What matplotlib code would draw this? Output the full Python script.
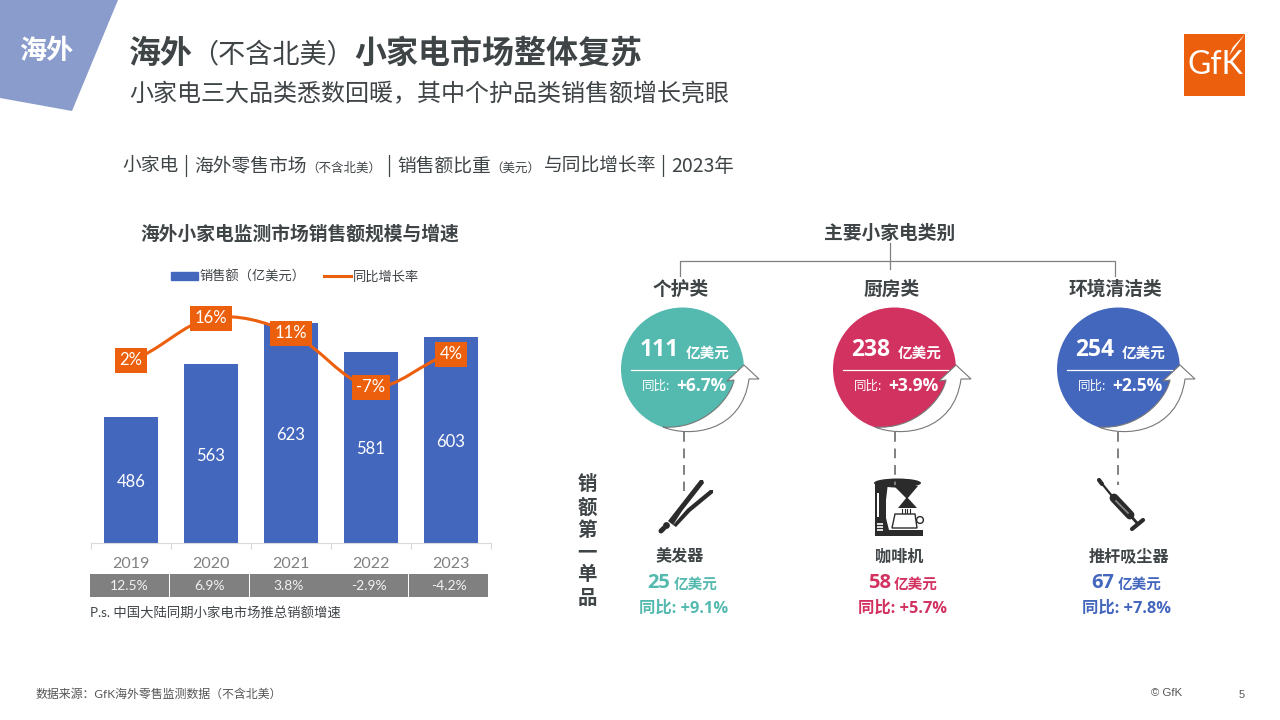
#!/usr/bin/env python3
# Slide: small appliances overseas market, bar + line chart and category bubbles
import matplotlib
matplotlib.use("Agg")
import matplotlib.pyplot as plt
from matplotlib.lines import Line2D
from matplotlib.patches import Circle, Ellipse, PathPatch, Polygon, Rectangle
from matplotlib.path import Path

# --- Data ---
years = ["2019", "2020", "2021", "2022", "2023"]
sales = [486, 563, 623, 581, 603]
growth = [2, 16, 11, -7, 4]
growth_labels = ["2%", "16%", "11%", "-7%", "4%"]
mainland_growth = ["12.5%", "6.9%", "3.8%", "-2.9%", "-4.2%"]

categories = ["个护类", "厨房类", "环境清洁类"]
category_sales = ["111", "238", "254"]
category_yoy = ["+6.7%", "+3.9%", "+2.5%"]
top_items = ["美发器", "咖啡机", "推杆吸尘器"]
top_sales = ["25", "58", "67"]
top_yoy = ["+9.1%", "+5.7%", "+7.8%"]

# --- Colours ---
DARK = "#3F4447"
GREY = "#808080"
BLUE = "#4467BE"
ORANGE = "#EC5F0C"
TEAL = "#54B9AF"
RED = "#D23260"
ICON = "#2B2B2B"
cat_colors = [TEAL, RED, BLUE]

CJK = "Noto Sans CJK SC"
LATO = ["Lato", CJK]
OPEN = ["Open Sans", CJK]

plt.rcParams["font.family"] = [CJK, "DejaVu Sans"]

fig = plt.figure(figsize=(12.8, 7.2), dpi=100)

# Overlay in pixel coordinates for everything around the chart
bg = fig.add_axes([0, 0, 1, 1], zorder=0)
bg.set_xlim(0, 1280)
bg.set_ylim(720, 0)
bg.axis("off")


def txt(x, y, s, size, color=DARK, weight="normal", ha="left", family=None, zorder=6):
    # text sits a bit high with va=center, so nudge it down
    bg.text(x, y + 3.5, s, fontsize=size, color=color, fontweight=weight, ha=ha, va="center",
            family=family if family else [CJK, "DejaVu Sans"], zorder=zorder)


# --- Header ---
bg.add_patch(Polygon([(0, 0), (118, 0), (72, 111), (0, 98)], color="#8A9CCB", lw=0))
txt(46, 47.5, "海外", 19.5, "white", "bold", ha="center")
txt(129, 50, "海外", 23, DARK, "bold")
txt(191, 51, "（不含北美）", 19.5, DARK)
txt(354, 50, "小家电市场整体复苏", 23, DARK, "bold")
txt(129, 90.5, "小家电三大品类悉数回暖，其中个护品类销售额增长亮眼", 17.3, DARK)

txt(122, 162.5, "小家电", 13.5, DARK)
txt(185.5, 162.5, "|", 13.5, DARK, ha="center")
txt(194.5, 162.5, "海外零售市场", 13.5, DARK)
txt(306, 164.5, "（不含北美）", 9, DARK)
txt(389, 162.5, "|", 13.5, DARK, ha="center")
txt(397, 162.5, "销售额比重", 13.5, DARK)
txt(490, 164.5, "（美元）", 9, DARK)
txt(543.5, 162.5, "与同比增长率", 13.5, DARK)
txt(663, 162.5, "|", 13.5, DARK, ha="center")
txt(671, 162.5, "2023年", 14, DARK)

# Logo
bg.add_patch(Rectangle((1184, 34), 61, 62, color=ORANGE, lw=0))
bg.add_patch(Polygon([(1245, 34), (1233, 47), (1229, 56)], color="white", lw=0))
txt(1215, 62, "GfK", 23, "white", ha="center", family=["Lato"])

# --- Left chart ---
BASE_Y, TOP_Y = 543, 300
LEFT_X, RIGHT_X = 91, 491
PX_PER_UNIT = 0.686
PX_PER_PCT = 3.0
ax_box = [LEFT_X / 1280, 1 - BASE_Y / 720, (RIGHT_X - LEFT_X) / 1280, (BASE_Y - TOP_Y) / 720]

ax = fig.add_axes(ax_box, zorder=2)
ax.patch.set_alpha(0)
x_pos = list(range(len(years)))
ax.bar(x_pos, sales, width=0.665, color=BLUE, linewidth=0)
ax.set_xlim(-0.5, 4.5)
ax.set_ylim(302, 302 + (BASE_Y - TOP_Y) / PX_PER_UNIT)
ax.set_yticks([])
for side in ["top", "left", "right"]:
    ax.spines[side].set_visible(False)
ax.spines["bottom"].set_color("#D9D9D9")
ax.set_xticks(x_pos)
ax.set_xticklabels(years, fontsize=11.5, color=GREY, family=LATO)
ax.tick_params(axis="x", which="major", length=0, pad=10)
ax.set_xticks([i - 0.5 for i in range(len(years) + 1)], minor=True)
ax.tick_params(axis="x", which="minor", length=4, color="#D9D9D9", width=0.8)
for i, v in enumerate(sales):
    ax.text(i, (302 + v) / 2 - 3, str(v), ha="center", va="center", color="white",
            fontsize=12, family=LATO)

# Growth line on its own scale
ax2 = ax.twinx()
ax2.patch.set_alpha(0)
ax2.set_ylim((366 - BASE_Y) / PX_PER_PCT, (366 - TOP_Y) / PX_PER_PCT)
ax2.set_yticks([])
for side in ax2.spines:
    ax2.spines[side].set_visible(False)

# smoothed line like the office chart: Catmull-Rom segments as bezier curves
verts = [(x_pos[0], growth[0])]
codes = [Path.MOVETO]
for i in range(len(growth) - 1):
    p0 = growth[max(i - 1, 0)]
    p3 = growth[min(i + 2, len(growth) - 1)]
    verts.append((i + 1 / 3, growth[i] + (growth[i + 1] - p0) / 6))
    verts.append((i + 2 / 3, growth[i + 1] - (p3 - growth[i]) / 6))
    verts.append((i + 1, growth[i + 1]))
    codes += [Path.CURVE4] * 3
ax2.add_patch(PathPatch(Path(verts, codes), fill=False, edgecolor=ORANGE, lw=2.2, capstyle="round"))
for i, v in enumerate(growth):
    ax2.text(i, v, growth_labels[i], ha="center", va="center", color="white", fontsize=12,
             family=LATO, bbox=dict(boxstyle="square,pad=0.27", fc=ORANGE, ec=ORANGE, lw=0))

handles = [Rectangle((0, 0), 1, 1, color=BLUE), Line2D([0], [0], color=ORANGE, lw=2.2)]
fig.legend(handles, ["销售额（亿美元）", "同比增长率"], ncol=2, frameon=False, fontsize=9.5,
           loc="center", bbox_to_anchor=(295 / 1280, 1 - 277 / 720), handlelength=2,
           handleheight=0.5, handletextpad=0.15, columnspacing=1.4, labelcolor=DARK)

txt(300, 231, "海外小家电监测市场销售额规模与增速", 13.5, DARK, "bold", ha="center")

# Mainland growth strip
for i, label in enumerate(mainland_growth):
    x0 = 90 + i * 79.8
    bg.add_patch(Rectangle((x0, 574), 79, 23, color=GREY, lw=0))
    txt(x0 + 39.4, 583, label, 10, "#F2F2F2", ha="center", family=LATO)
txt(90, 610, "P.s. 中国大陆同期小家电市场推总销额增速", 9.6, DARK, family=LATO)

# --- Right side: tree header ---
txt(890, 230, "主要小家电类别", 13.5, DARK, "bold", ha="center")
bg.plot([890, 890], [243, 269], color=GREY, lw=0.9)
bg.plot([680, 680, 1115, 1115], [276, 260.5, 260.5, 276], color=GREY, lw=0.9)

circle_x = [682.5, 894.5, 1118.5]
label_x = [681, 892, 1115]
CIRCLE_Y = 369
R = 61.5


def add_arrow(cx):
    # curved arrow hugging the lower right edge of the bubble
    d = cx - 682.5
    verts = [(663 + d, 427), (690 + d, 438), (742 + d, 432), (749 + d, 379), (759 + d, 379),
             (744 + d, 365), (727 + d, 381), (734 + d, 380), (730 + d, 400), (702 + d, 430),
             (663 + d, 427), (663 + d, 427)]
    codes = [Path.MOVETO, Path.CURVE4, Path.CURVE4, Path.CURVE4, Path.LINETO, Path.LINETO,
             Path.LINETO, Path.LINETO, Path.CURVE4, Path.CURVE4, Path.CURVE4, Path.CLOSEPOLY]
    bg.add_patch(PathPatch(Path(verts, codes), fc="white", ec="#777777", lw=0.8, zorder=4))


for i, cx in enumerate(circle_x):
    txt(label_x[i], 286, categories[i], 13.5, DARK, "bold", ha="center")
    bg.add_patch(Circle((cx, CIRCLE_Y), R, color=cat_colors[i], lw=0, zorder=3))
    add_arrow(cx)
    txt(cx - 43, 346.5, category_sales[i], 16.5, "white", "bold", family=OPEN)
    txt(cx + 3, 349.5, "亿美元", 10.5, "white", "bold")
    bg.plot([cx - 52, cx + 53], [369.5, 369.5], color="white", lw=0.9, zorder=5)
    txt(cx - 41, 382.5, "同比:", 9, "white")
    txt(cx - 6, 382.5, category_yoy[i], 12.5, "white", "bold", family=OPEN)

# dashed connectors to the icons
for x, y1 in zip([683.5, 895, 1118], [491, 485, 485]):
    bg.plot([x, x], [432, y1], color=GREY, lw=1.4, linestyle=(0, (5, 3.5)))

# --- Icons ---
# hair straightener
bg.add_patch(Polygon([(668, 521), (700, 480), (703, 480), (704, 483), (682, 511), (673, 525)],
                     color=ICON, lw=0, joinstyle="round"))
bg.add_patch(Polygon([(673, 525), (687, 509), (710, 490), (713, 490), (713, 493), (690, 512), (676, 527)],
                     color=ICON, lw=0, joinstyle="round"))
bg.plot([661, 664], [531, 528], color=ICON, lw=3.6, solid_capstyle="round")
bg.add_patch(Circle((666.5, 525.5), 3.4, color=ICON, lw=0))

# coffee maker
bg.add_patch(Polygon([(875, 483), (888, 483), (886, 500), (886, 518), (889, 530), (923, 530),
                      (923, 536), (875, 536)], color=ICON, lw=0))
bg.add_patch(Ellipse((897.5, 483), 47, 9, color=ICON, lw=0))
bg.add_patch(Polygon([(894, 486), (918, 486), (907, 499)], color=ICON, lw=0))
bg.add_patch(Polygon([(898, 508), (917, 508), (907, 497)], color=ICON, lw=0))
bg.add_patch(Rectangle((877, 493), 1.5, 24, color="white", lw=0))
for yb in [523, 526, 529]:
    bg.add_patch(Rectangle((877, yb), 6, 1.6, color="#DDDDDD", lw=0))
for xv in [902, 904.5, 907, 909.5]:
    bg.plot([xv, xv], [509, 513], color=ICON, lw=0.8)
bg.add_patch(Polygon([(895, 514), (915, 514), (917, 528), (892, 528)], fc="white", ec=ICON, lw=1))
bg.add_patch(Circle((920, 520), 3.4, fc="white", ec=ICON, lw=1))

# stick vacuum
bg.plot([1099, 1112], [480, 496], color=ICON, lw=1.6, solid_capstyle="round")
bg.plot([1099, 1102], [480, 484], color=ICON, lw=3, solid_capstyle="round")
bg.plot([1114, 1130], [498, 515], color=ICON, lw=6.4, solid_capstyle="round")
bg.plot([1116, 1128], [501, 513], color="#8A8A8A", lw=1.2)
bg.plot([1130, 1137], [515, 523], color=ICON, lw=2)
bg.plot([1132, 1143], [529, 520], color=ICON, lw=3, solid_capstyle="round")

# --- Best sellers ---
for ch, y in zip("销额第一单品", [484, 507, 529, 552, 574, 597]):
    txt(587, y - 2.5, ch, 14, DARK, "bold", ha="center")

item_x = [680, 899, 1129]
num_x = [647, 868, 1091]
unit_x = [674, 894, 1118]
yoy_x = [639, 858, 1082]
for i in range(len(top_items)):
    c = cat_colors[i]
    txt(item_x[i], 553, top_items[i], 11.6, DARK, "bold", ha="center")
    txt(num_x[i], 579, top_sales[i], 14.5, c, "bold", family=OPEN)
    txt(unit_x[i], 580, "亿美元", 10.5, c, "bold")
    txt(yoy_x[i], 605, "同比: " + top_yoy[i], 11.8, c, "bold", family=OPEN)

# --- Footer ---
txt(35, 690.5, "数据来源：GfK海外零售监测数据（不含北美）", 8.6, "#555555", family=LATO)
txt(1151, 689, "© GfK", 8.2, "#555555", family=["Liberation Sans"])
txt(1239, 691, "5", 8, "#555555", family=["Liberation Sans"])

fig.savefig("out.png", dpi=100)
plt.close(fig)
